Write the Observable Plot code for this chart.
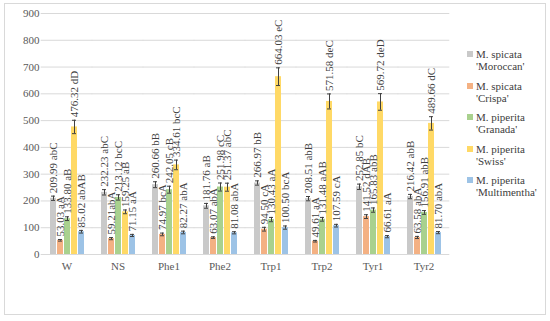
<!DOCTYPE html>
<html><head><meta charset="utf-8">
<script src="https://cdn.jsdelivr.net/npm/d3@7"></script>
<script src="https://cdn.jsdelivr.net/npm/@observablehq/plot@0.6"></script>
<style>
body{margin:0;background:#fff;}
#wrap{position:relative;width:550px;height:321px;font-family:"Liberation Serif",serif;}
#border{position:absolute;left:4px;top:3px;width:542px;height:312px;border:1px solid #d9d9d9;box-sizing:border-box;}
#chart{position:absolute;left:0;top:0;}
#chart svg, #chart svg text{font-family:"Liberation Serif",serif !important;}
#legend{position:absolute;left:467px;top:48px;font-size:11px;color:#404040;line-height:12px;font-family:"Liberation Serif",serif;}
.item{display:flex;margin-bottom:7.5px;}
.sw{width:6px;height:6px;margin-top:3px;margin-right:3px;flex:none;}
</style></head><body>
<div id="wrap"><div id="border"></div><div id="chart"></div><div id="legend"></div></div>
<script>
const groups = ["W","NS","Phe1","Phe2","Trp1","Trp2","Tyr1","Tyr2"];
const seriesNames = ["M. spicata 'Moroccan'","M. spicata 'Crispa'","M. piperita 'Granada'","M. piperita 'Swiss'","M. piperita 'Multimentha'"];
const legendLine1 = ["M. spicata","M. spicata","M. piperita","M. piperita","M. piperita"];
const legendLine2 = ["'Moroccan'","'Crispa'","'Granada'","'Swiss'","'Multimentha'"];
const colors = ["#c9c9c9","#f4b183","#a9d18e","#ffd966","#9dc3e6"];
const yTicks = [0,100,200,300,400,500,600,700,800,900];

const moroccan = [209.99,232.23,260.66,181.76,266.97,208.51,252.85,216.42];
const moroccanErr = [8,10,11,9,8,8,10,8];
const moroccanLetters = [" abC"," abC"," bB"," aB"," bB"," abB"," bC"," abB"];

const crispa = [53.03,59.21,74.97,63.07,94.50,49.61,141.52,63.58];
const crispaErr = [3,4,5,3,7,3,7,4];
const crispaLetters = [" aA","abA"," bcA"," abA"," cA"," aA"," dAB"," abA"];

const granada = [133.80,213.12,242.05,251.98,130.43,131.48,165.83,156.91];
const granadaErr = [7,10,13,15,8,7,8,7];
const granadaLetters = [" aB"," bcC"," cB"," cC"," aA"," aAB"," abB"," abB"];

const swiss = [476.32,159.25,334.61,251.37,664.03,571.58,569.72,489.66];
const swissErr = [25,7,18,15,33,28,31,25];
const swissLetters = [" dD"," aB"," bcC"," abC"," eC"," deC"," deD"," dC"];

const multimentha = [85.02,71.15,82.27,81.08,100.50,107.59,66.61,81.70];
const multimenthaErr = [5,4,5,4,6,5,4,4];
const multimenthaLetters = [" abAB"," aA"," abA"," abA"," bcA"," cA"," aA"," abA"];

const seriesValues = [moroccan,crispa,granada,swiss,multimentha];
const seriesErrs = [moroccanErr,crispaErr,granadaErr,swissErr,multimenthaErr];
const seriesLetters = [moroccanLetters,crispaLetters,granadaLetters,swissLetters,multimenthaLetters];

const rows = [];
seriesNames.forEach((s, si) => {
  groups.forEach((g, gi) => {
    const v = seriesValues[si][gi], e = seriesErrs[si][gi];
    rows.push({group: g, series: s, value: v, lo: v - e, hi: v + e,
      label: v.toFixed(2) + seriesLetters[si][gi]});
  });
});

const chart = Plot.plot({
  width: 550, height: 321,
  marginLeft: 38, marginRight: 98, marginTop: 13, marginBottom: 67,
  style: {fontFamily: '"Liberation Serif", serif', fontSize: "11px", color: "#595959", background: "transparent"},
  fx: {domain: groups, paddingInner: 0.28, paddingOuter: 0.14, label: null, axis: "bottom", tickSize: 0, tickPadding: 8},
  x: {domain: seriesNames, paddingInner: 0.2, paddingOuter: 0, axis: null},
  y: {domain: [0, 900], ticks: yTicks, tickSize: 0, tickPadding: 9, label: null, axis: "left"},
  color: {domain: seriesNames, range: colors},
  marks: [
    Plot.ruleY(yTicks, {stroke: "#d9d9d9", strokeWidth: 1, insetLeft: -7.3, insetRight: -7.3}),
    Plot.barY(rows, {fx: "group", x: "series", y: "value", fill: "series"}),
    Plot.ruleX(rows, {fx: "group", x: "series", y1: "lo", y2: "hi", stroke: "#404040", strokeWidth: 1}),
    Plot.tickY(rows, {fx: "group", x: "series", y: "lo", stroke: "#404040", insetLeft: 1, insetRight: 1}),
    Plot.tickY(rows, {fx: "group", x: "series", y: "hi", stroke: "#404040", insetLeft: 1, insetRight: 1}),
    Plot.text(rows, {fx: "group", x: "series", y: "hi", text: "label", rotate: -90, textAnchor: "start", dy: -3, fill: "#404040", fontSize: 11, fontFamily: "Liberation Serif"})
  ]
});
document.getElementById("chart").appendChild(chart);

const legend = document.getElementById("legend");
seriesNames.forEach((s, i) => {
  const item = document.createElement("div");
  item.className = "item";
  const sw = document.createElement("div");
  sw.className = "sw";
  sw.style.background = colors[i];
  const txt = document.createElement("div");
  txt.innerHTML = legendLine1[i] + "<br>" + legendLine2[i];
  item.appendChild(sw); item.appendChild(txt);
  legend.appendChild(item);
});
</script>
</body></html>
